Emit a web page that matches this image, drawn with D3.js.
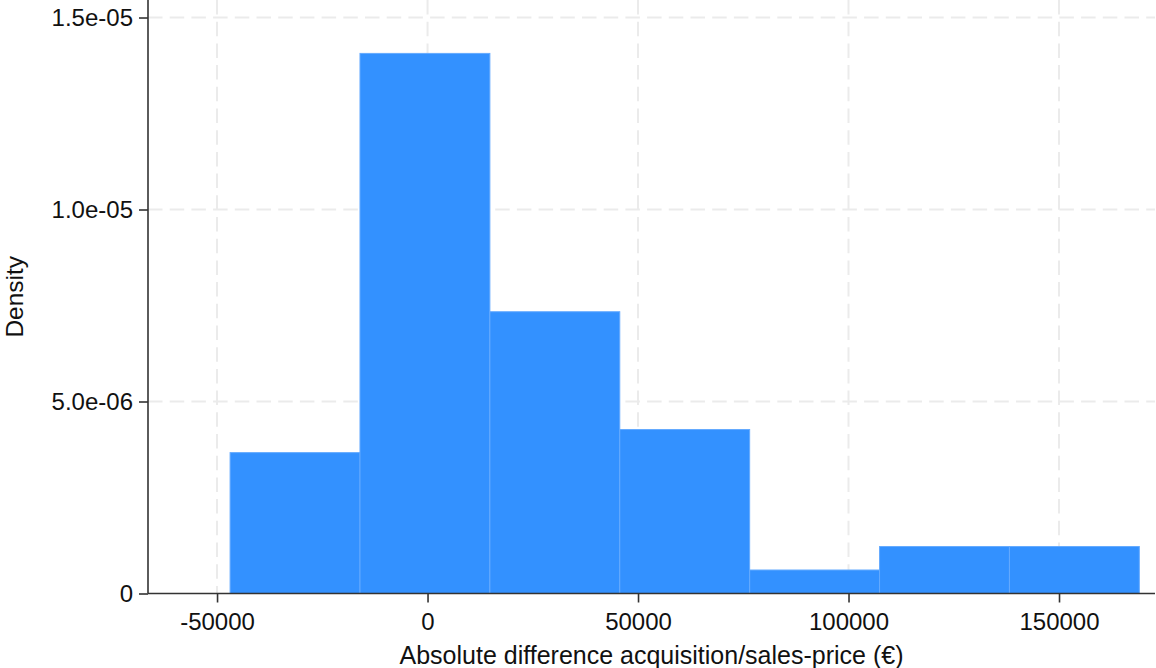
<!DOCTYPE html>
<html>
<head>
<meta charset="utf-8">
<script src="https://cdn.jsdelivr.net/npm/d3@7"></script>
<style>
  html, body { margin: 0; padding: 0; background: #fff; }
  svg { display: block; font-family: "Liberation Sans", Arial, Helvetica, sans-serif; }
</style>
</head>
<body>
<svg id="chart" width="1156" height="668"></svg>
<script>
// Histogram bins: edges of each bin (€) and the density of each bin
const binEdges = [-46900, -16046, 14808, 45662, 76516, 107370, 138224, 169078];
const densities = [3.669e-6, 1.4065e-5, 7.338e-6, 4.27e-6, 6.12e-7, 1.223e-6, 1.223e-6];

const xTicks = [-50000, 0, 50000, 100000, 150000];
const xTickLabels = ["-50000", "0", "50000", "100000", "150000"];
const yTicks = [0, 5e-6, 1e-5, 1.5e-5];
const yTickLabels = ["0", "5.0e-06", "1.0e-05", "1.5e-05"];

const xLabel = "Absolute difference acquisition/sales-price (€)";
const yLabel = "Density";

const W = 1156, H = 668;
const plot = { left: 148, right: 1155, top: 0, bottom: 593.5 };

const svg = d3.select("#chart");

const x = d3.scaleLinear().domain([-66400, 172800]).range([plot.left, plot.right]);
const y = d3.scaleLinear().domain([0, 1.5456e-5]).range([plot.bottom, plot.top]);

// grid lines
const grid = svg.append("g").attr("class", "grid")
  .attr("stroke", "#ebebeb").attr("stroke-width", 2).attr("stroke-dasharray", "14.5,7.2");
grid.selectAll("line.gx").data(xTicks).join("line").attr("class", "gx")
  .attr("x1", d => x(d)).attr("x2", d => x(d))
  .attr("y1", plot.top).attr("y2", plot.bottom);
grid.selectAll("line.gy").data(yTicks.filter(d => d !== 0)).join("line").attr("class", "gy")
  .attr("y1", d => y(d)).attr("y2", d => y(d))
  .attr("x1", plot.left).attr("x2", plot.right);

// bars
const bins = densities.map((d, i) => ({ x0: binEdges[i], x1: binEdges[i + 1], d }));
svg.append("g").selectAll("rect").data(bins).join("rect")
  .attr("x", b => x(b.x0))
  .attr("width", b => x(b.x1) - x(b.x0))
  .attr("y", b => y(b.d))
  .attr("height", b => y(0) - y(b.d))
  .attr("fill", "#3391ff")
  .attr("stroke", "#64aaff")
  .attr("stroke-width", 1);

// axes
const xAxis = d3.axisBottom(x).tickValues(xTicks)
  .tickFormat((d, i) => xTickLabels[i]).tickSize(9).tickPadding(10).tickSizeOuter(0);
const yAxis = d3.axisLeft(y).tickValues(yTicks)
  .tickFormat((d, i) => yTickLabels[i]).tickSize(9).tickPadding(6).tickSizeOuter(0);

const gx = svg.append("g").attr("transform", `translate(0,${plot.bottom})`).call(xAxis);
const gy = svg.append("g").attr("transform", `translate(${plot.left},0)`).call(yAxis);

[gx, gy].forEach(g => {
  g.select(".domain").attr("stroke", "#333").attr("stroke-width", 1.6);
  g.selectAll(".tick line").attr("stroke", "#333").attr("stroke-width", 1.6);
  g.selectAll(".tick text").attr("fill", "#111").style("font-size", "24px")
    .style("font-family", "'Liberation Sans', Arial, sans-serif");
});
// extend the x axis line over the full plot width
gx.select(".domain").attr("d", `M${plot.left},0H${plot.right}`);
gy.select(".domain").attr("d", `M0,${plot.bottom}V${plot.top}`);

// axis titles
svg.append("text")
  .attr("x", (plot.left + plot.right) / 2).attr("y", 664)
  .attr("text-anchor", "middle").attr("fill", "#111")
  .style("font-size", "25px")
  .text(xLabel);

svg.append("text")
  .attr("transform", `translate(22.5,${(plot.top + plot.bottom) / 2}) rotate(-90)`)
  .attr("text-anchor", "middle").attr("fill", "#111")
  .style("font-size", "24.5px")
  .text(yLabel);
</script>
</body>
</html>
